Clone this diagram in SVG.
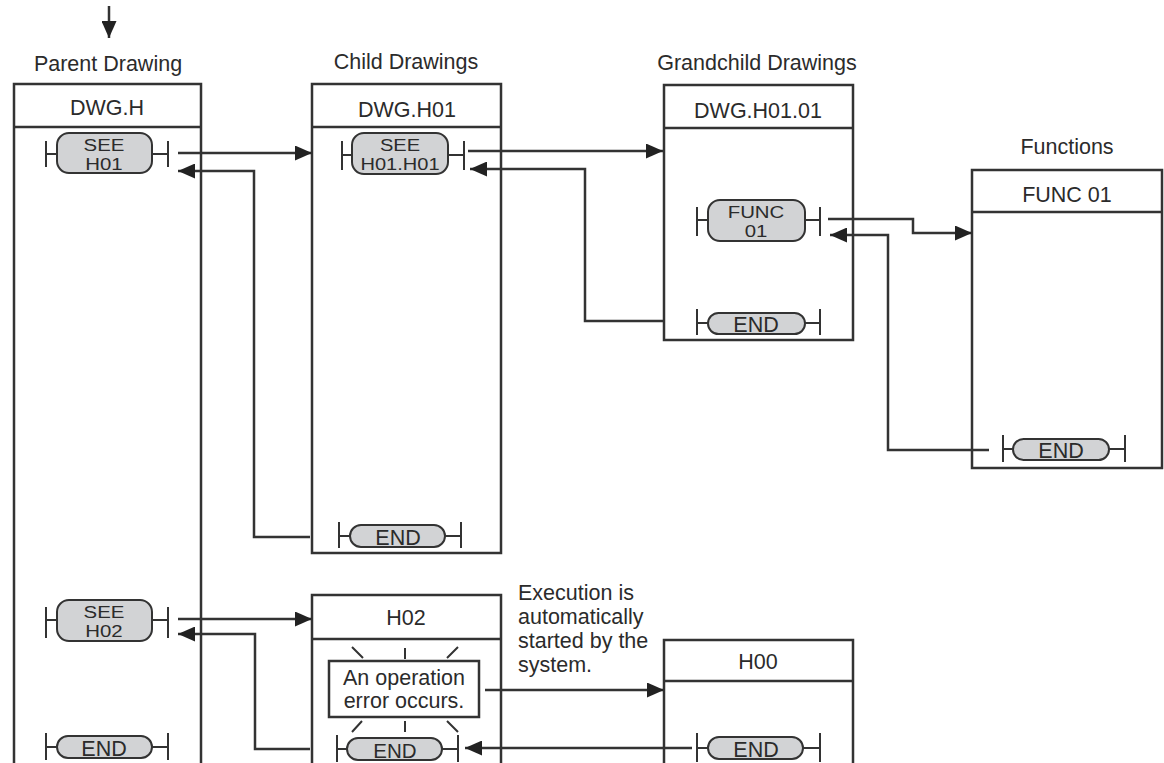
<svg xmlns="http://www.w3.org/2000/svg" width="1164" height="763" viewBox="0 0 1164 763">
<defs>
<style>
text{font-family:"Liberation Sans",Arial,sans-serif;fill:#2b2b2b;text-anchor:middle}
.lbl{font-size:21.5px}
.pt{font-size:17px}
.box{fill:#fff;stroke:#333;stroke-width:2.5}
.pill{fill:#d2d3d5;stroke:#333;stroke-width:2}
.bar{fill:none;stroke:#333;stroke-width:2}
.con{fill:none;stroke:#333;stroke-width:2.5;marker-end:url(#ah)}
.ray{stroke:#333;stroke-width:2}
</style>
<marker id="ah" markerWidth="17" markerHeight="15" refX="17" refY="7.5" orient="auto" markerUnits="userSpaceOnUse">
<path d="M0,0 L17,7.5 L0,15 z" fill="#222"/>
</marker>
</defs>

<g id="labels">
<text class="lbl" x="108" y="71">Parent Drawing</text>
<text class="lbl" x="406" y="69">Child Drawings</text>
<text class="lbl" x="757" y="70">Grandchild Drawings</text>
<text class="lbl" x="1067" y="154">Functions</text>
<text class="lbl" style="text-anchor:start"><tspan x="518" y="600">Execution is</tspan><tspan x="518" y="624">automatically</tspan><tspan x="518" y="648">started by the</tspan><tspan x="518" y="672">system.</tspan></text>
</g>

<g id="parent">
<rect class="box" x="14" y="84" width="187" height="690"/>
<line class="bar" x1="14" y1="127" x2="201" y2="127" style="stroke-width:2.5"/>
<text class="lbl" x="107" y="115">DWG.H</text>
<g id="see-h01">
<path class="bar" d="M46,141 V167 M46,154 H57 M152,154 H168 M168,141 V167"/>
<rect class="pill" x="57" y="133" width="95" height="40" rx="12"/>
<text class="pt" transform="translate(104 0) scale(1.2 1)"><tspan x="0" y="151">SEE</tspan><tspan x="0" y="170">H01</tspan></text>
</g>
<g id="see-h02">
<path class="bar" d="M46,607 V638 M46,620 H57 M152,620 H168 M168,607 V638"/>
<rect class="pill" x="57" y="600" width="95" height="41" rx="12"/>
<text class="pt" transform="translate(104 0) scale(1.2 1)"><tspan x="0" y="618">SEE</tspan><tspan x="0" y="637">H02</tspan></text>
</g>
<g id="end-parent">
<path class="bar" d="M46,733 V760 M46,747 H57 M152,747 H168 M168,733 V760"/>
<rect class="pill" x="57" y="736" width="95" height="22" rx="11"/>
<text class="lbl" x="104" y="756">END</text>
</g>
</g>

<g id="child">
<rect class="box" x="312" y="84" width="189" height="469"/>
<line class="bar" x1="312" y1="127" x2="501" y2="127" style="stroke-width:2.5"/>
<text class="lbl" x="407" y="117">DWG.H01</text>
<g id="see-h01h01">
<path class="bar" d="M342,141 V170 M342,155 H352 M448,155 H464 M464,141 V170"/>
<rect class="pill" x="352" y="133" width="96" height="41" rx="12"/>
<text class="pt" transform="translate(400 0) scale(1.18 1)"><tspan x="0" y="151">SEE</tspan><tspan x="0" y="170">H01.H01</tspan></text>
</g>
<g id="end-child">
<path class="bar" d="M339,522 V548 M339,536 H350 M445,536 H461 M461,522 V548"/>
<rect class="pill" x="350" y="525" width="95" height="22" rx="11"/>
<text class="lbl" x="398" y="545">END</text>
</g>
</g>

<g id="grandchild">
<rect class="box" x="664" y="85" width="189" height="255"/>
<line class="bar" x1="664" y1="128" x2="853" y2="128" style="stroke-width:2.5"/>
<text class="lbl" x="758" y="118">DWG.H01.01</text>
<g id="func01-call">
<path class="bar" d="M697,207 V236 M697,220 H708 M805,220 H820 M820,207 V236"/>
<rect class="pill" x="708" y="200" width="97" height="41" rx="12"/>
<text class="pt" transform="translate(756 0) scale(1.2 1)"><tspan x="0" y="218">FUNC</tspan><tspan x="0" y="237">01</tspan></text>
</g>
<g id="end-grandchild">
<path class="bar" d="M697,309 V335 M697,323 H708 M805,323 H820 M820,309 V335"/>
<rect class="pill" x="708" y="313" width="97" height="21" rx="10.5"/>
<text class="lbl" x="756" y="332">END</text>
</g>
</g>

<g id="functions">
<rect class="box" x="972" y="170" width="190" height="298"/>
<line class="bar" x1="972" y1="212" x2="1162" y2="212" style="stroke-width:2.5"/>
<text class="lbl" x="1067" y="202">FUNC 01</text>
<g id="end-func">
<path class="bar" d="M1003,435 V462 M1003,449 H1013 M1109,449 H1125 M1125,435 V462"/>
<rect class="pill" x="1013" y="439" width="96" height="21" rx="10.5"/>
<text class="lbl" x="1061" y="458">END</text>
</g>
</g>

<g id="h02">
<rect class="box" x="312" y="595" width="189" height="180"/>
<line class="bar" x1="312" y1="639" x2="501" y2="639" style="stroke-width:2.5"/>
<text class="lbl" x="406" y="625">H02</text>
<g id="error">
<rect x="329" y="661" width="150" height="56" fill="#fff" stroke="#333" stroke-width="2.5"/>
<text class="lbl"><tspan x="404" y="685">An operation</tspan><tspan x="404" y="708">error occurs.</tspan></text>
<path class="ray" d="M352,647 L363,658 M405,648 V659 M458,647 L447,658 M362,721 L352,732 M405,721 V732 M447,721 L458,732"/>
</g>
<g id="end-h02">
<path class="bar" d="M337,735 V762 M337,749 H347 M442,749 H458 M458,735 V762"/>
<rect class="pill" x="347" y="738" width="95" height="22" rx="11"/>
<text class="lbl" x="395" y="758" style="font-size:20.5px">END</text>
</g>
</g>

<g id="h00">
<rect class="box" x="664" y="640" width="189" height="135"/>
<line class="bar" x1="664" y1="681" x2="853" y2="681" style="stroke-width:2.5"/>
<text class="lbl" x="758" y="669">H00</text>
<g id="end-h00">
<path class="bar" d="M697,733 V762 M697,748 H708 M803,748 H820 M820,733 V762"/>
<rect class="pill" x="708" y="737" width="95" height="22" rx="11"/>
<text class="lbl" x="756" y="757">END</text>
</g>
</g>

<g id="connectors">
<path class="con" d="M109,6 V38"/>
<path class="con" d="M178,153 H312"/>
<path class="con" d="M310,537 H254 V171 H178"/>
<path class="con" d="M468,151 H663"/>
<path class="con" d="M663,321 H585 V169 H470"/>
<path class="con" d="M828,219 H913 V233 H972"/>
<path class="con" d="M989,450 H888 V235 H830"/>
<path class="con" d="M178,619 H312"/>
<path class="con" d="M310,749 H255 V634 H178"/>
<path class="con" d="M485,690 H664"/>
<path class="con" d="M692,748 H465"/>
</g>
</svg>
